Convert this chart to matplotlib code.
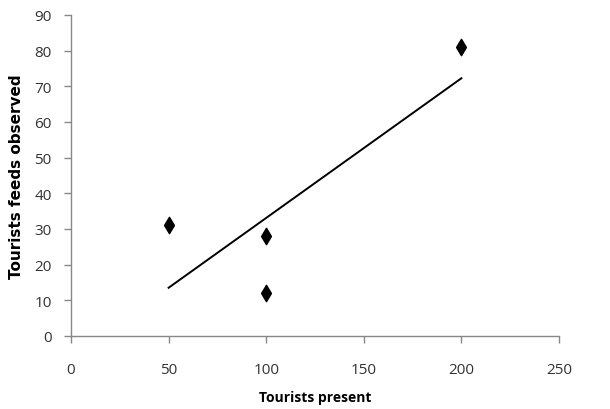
import matplotlib
matplotlib.use("Agg")
import matplotlib.pyplot as plt
import numpy as np

tourists_present = [50, 100, 100, 200]
feeds_observed = [31, 28, 12, 81]
x_ticks = [0, 50, 100, 150, 200, 250]
y_ticks = [0, 10, 20, 30, 40, 50, 60, 70, 80, 90]

plt.rcParams['font.family'] = ['Open Sans', 'DejaVu Sans']

fig = plt.figure(figsize=(6.1, 4.1), dpi=100)
ax = fig.add_axes([71/610, 1-337/410, (559-71)/610, (337-16)/410])

ax.scatter(tourists_present, feeds_observed, marker='d', s=70, color='black', zorder=3)

x = np.array(tourists_present, dtype=float)
y = np.array(feeds_observed, dtype=float)
slope, intercept = np.polyfit(x, y, 1)
xl = np.array([x.min(), x.max()])
ax.plot(xl, slope*xl + intercept, color='black', lw=1.4)

ax.set_xlim(0, 250)
ax.set_ylim(0, 90)
ax.set_xticks(x_ticks)
ax.set_yticks(y_ticks)
for s in ['top', 'right']:
    ax.spines[s].set_visible(False)
for s in ['left', 'bottom']:
    ax.spines[s].set_color('#888888')
    ax.spines[s].set_linewidth(1)
ax.tick_params(colors='#888888', labelcolor='#333333', labelsize=11, length=5, width=1, direction='out')
ax.tick_params(axis='x', pad=14)
ax.tick_params(axis='y', pad=9)
ax.set_xlabel('Tourists present', fontsize=10, fontweight='bold', labelpad=9)
ax.set_ylabel('Tourists feeds observed', fontsize=11, fontweight='bold', labelpad=7,
              family='DejaVu Sans')

fig.savefig('out.png', dpi=100)
